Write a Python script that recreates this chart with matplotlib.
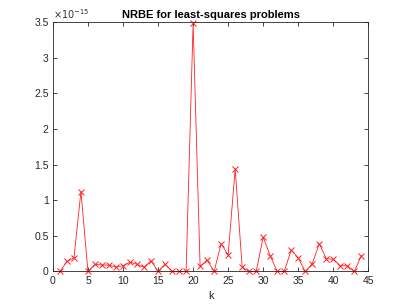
import numpy as np
import matplotlib
matplotlib.use('Agg')
import matplotlib.pyplot as plt

plt.rcParams['font.family'] = ['Liberation Sans', 'DejaVu Sans']

# NRBE values (units of 1e-15) for k = 1..44
k = np.arange(1, 45)
nrbe = [0.0, 0.14, 0.19, 1.12, 0.0, 0.10, 0.09, 0.09, 0.06, 0.08,
        0.13, 0.10, 0.06, 0.15, 0.0, 0.10, 0.0, 0.0, 0.0, 3.48,
        0.07, 0.16, 0.0, 0.39, 0.23, 1.44, 0.06, 0.0, 0.0, 0.48,
        0.22, 0.0, 0.0, 0.30, 0.19, 0.0, 0.11, 0.39, 0.18, 0.17,
        0.08, 0.08, 0.0, 0.22]
nrbe = np.array(nrbe) * 1e-15

fig = plt.figure(figsize=(4.07, 3.05), dpi=100)
ax = fig.add_axes([0.13, 0.11, 0.775, 0.818])

ax.plot(k, nrbe, color='#ff2020', lw=0.6, marker='x', ms=4, mew=0.7, clip_on=False)

ax.set_xlim(0, 45)
ax.set_ylim(0, 3.5e-15)
ax.set_xticks(np.arange(0, 46, 5))
ax.set_yticks(np.arange(0, 3.6e-15, 0.5e-15))
ax.set_yticklabels(['0', '0.5', '1', '1.5', '2', '2.5', '3', '3.5'])
ax.text(0.0, 1.005, r'$\times10^{-15}$', transform=ax.transAxes, fontsize=7,
        ha='left', va='bottom', color='#333333')

ax.tick_params(direction='in', length=3, width=0.6, labelsize=7.5, colors='#262626',
               top=True, right=True, pad=3)
for s in ax.spines.values():
    s.set_color('#262626')
    s.set_linewidth(0.6)

ax.set_title('NRBE for least-squares problems', fontsize=8, fontweight='bold', pad=3)
ax.set_xlabel('k', fontsize=8, labelpad=4, color='#262626')

fig.savefig('out.png', dpi=100)
